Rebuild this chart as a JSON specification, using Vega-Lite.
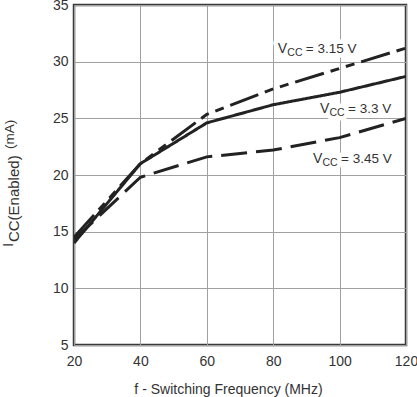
{
  "$schema": "https://vega.github.io/schema/vega-lite/v6.json",
  "width": 332,
  "height": 340,
  "autosize": {"type": "none"},
  "padding": {"left": 74, "top": 5, "right": 11, "bottom": 52},
  "background": "white",
  "config": {
    "font": "Liberation Sans",
    "view": {"stroke": "#3a3a3a", "strokeWidth": 2.5},
    "axis": {
      "labelFont": "Liberation Sans",
      "titleFont": "Liberation Sans",
      "labelFontSize": 14,
      "titleFontSize": 14,
      "labelColor": "#333",
      "titleColor": "#333",
      "titleFontWeight": "normal",
      "domain": false,
      "ticks": false,
      "tickSize": 0,
      "grid": true,
      "gridColor": "#a0a0a0",
      "gridWidth": 1,
      "gridOpacity": 1
    }
  },
  "encoding": {
    "x": {"field": "f", "type": "quantitative",
          "scale": {"domain": [20, 120], "nice": false, "zero": false},
          "axis": {"values": [20, 40, 60, 80, 100, 120], "title": "f - Switching Frequency (MHz)",
                   "labelPadding": 9, "titleBaseline": "alphabetic", "titleY": 48, "titleX": 154,
                   "labelFlush": false}},
    "y": {"field": "icc", "type": "quantitative",
          "scale": {"domain": [5, 35], "nice": false, "zero": false},
          "axis": {"values": [5, 10, 15, 20, 25, 30, 35], "title": null, "labelPadding": 6, "labelFlush": false}}
  },
  "layer": [
    {
      "data": {"values": [
        {"f": 20, "icc": 14.5, "vcc": "3.15"},
        {"f": 40, "icc": 21.0, "vcc": "3.15"},
        {"f": 60, "icc": 25.35, "vcc": "3.15"},
        {"f": 80, "icc": 27.6, "vcc": "3.15"},
        {"f": 100, "icc": 29.4, "vcc": "3.15"},
        {"f": 120, "icc": 31.2, "vcc": "3.15"},
        {"f": 20, "icc": 14.0, "vcc": "3.3"},
        {"f": 40, "icc": 21.0, "vcc": "3.3"},
        {"f": 60, "icc": 24.6, "vcc": "3.3"},
        {"f": 80, "icc": 26.2, "vcc": "3.3"},
        {"f": 100, "icc": 27.3, "vcc": "3.3"},
        {"f": 120, "icc": 28.7, "vcc": "3.3"},
        {"f": 20, "icc": 14.3, "vcc": "3.45"},
        {"f": 40, "icc": 19.8, "vcc": "3.45"},
        {"f": 60, "icc": 21.6, "vcc": "3.45"},
        {"f": 80, "icc": 22.2, "vcc": "3.45"},
        {"f": 100, "icc": 23.3, "vcc": "3.45"},
        {"f": 120, "icc": 25.0, "vcc": "3.45"}
      ]},
      "mark": {"type": "line", "color": "#222", "strokeWidth": 3, "strokeCap": "butt", "clip": true},
      "encoding": {
        "strokeDash": {"field": "vcc", "type": "nominal",
                       "scale": {"domain": ["3.15", "3.3", "3.45"], "range": [[30, 7, 9, 7, 9, 7], [1, 0], [26, 9]]},
                       "legend": null},
        "detail": {"field": "vcc"}
      }
    },
    {
      "data": {"values": [
        {"f": 81.4, "icc": 30.76, "rest": "= 3.15 V"},
        {"f": 94.1, "icc": 25.47, "rest": "= 3.3 V"},
        {"f": 92.0, "icc": 21.05, "rest": "= 3.45 V"}
      ]},
      "layer": [
        {"mark": {"type": "text", "text": "V", "align": "left", "baseline": "alphabetic", "fontSize": 14, "fill": "white", "stroke": "white", "strokeWidth": 9, "strokeJoin": "round"}},
        {"mark": {"type": "text", "text": "CC", "align": "left", "baseline": "alphabetic", "fontSize": 10.5, "dx": 9.5, "dy": 3, "fill": "white", "stroke": "white", "strokeWidth": 9, "strokeJoin": "round"}},
        {"mark": {"type": "text", "align": "left", "baseline": "alphabetic", "fontSize": 13.5, "dx": 28, "fill": "white", "stroke": "white", "strokeWidth": 9, "strokeJoin": "round"}, "encoding": {"text": {"field": "rest"}}},
        {"mark": {"type": "text", "text": "V", "align": "left", "baseline": "alphabetic", "fontSize": 14, "color": "#333"}},
        {"mark": {"type": "text", "text": "CC", "align": "left", "baseline": "alphabetic", "fontSize": 10.5, "dx": 9.5, "dy": 3, "color": "#333"}},
        {"mark": {"type": "text", "align": "left", "baseline": "alphabetic", "fontSize": 13.5, "dx": 28, "color": "#333"}, "encoding": {"text": {"field": "rest"}}}
      ]
    },
    {
      "data": {"values": [{"f": 20, "icc": 13.64}]},
      "layer": [
        {"mark": {"type": "text", "text": "I", "angle": 270, "align": "left", "baseline": "alphabetic", "fontSize": 15, "dy": -61, "dx": 0, "color": "#333", "clip": false}},
        {"mark": {"type": "text", "text": "CC(Enabled)", "angle": 270, "align": "left", "baseline": "alphabetic", "fontSize": 15, "dy": -55, "dx": 5, "color": "#333", "clip": false}},
        {"mark": {"type": "text", "text": "(mA)", "angle": 270, "align": "left", "baseline": "alphabetic", "fontSize": 13.5, "dy": -60, "dx": 98, "color": "#333", "clip": false}}
      ]
    }
  ]
}
